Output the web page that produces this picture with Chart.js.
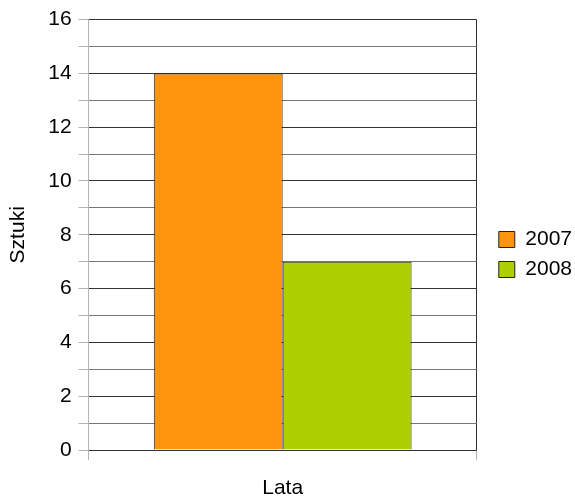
<!DOCTYPE html>
<html>
<head>
<meta charset="utf-8">
<script src="https://cdn.jsdelivr.net/npm/chart.js@4.4.1/dist/chart.umd.min.js"></script>
<style>
  body { margin: 0; background: #fff; }
</style>
</head>
<body>
<canvas id="chart" width="575" height="499"></canvas>
<script>
// data
var categories = [""];
var years = ["2007", "2008"];
var values2007 = [14];
var values2008 = [7];
var barColors = ["#ff950e", "#aecf00"];
var yMin = 0;
var yMax = 16;

Chart.defaults.font.family = "'Liberation Sans', Arial, sans-serif";
Chart.defaults.font.size = 21;
Chart.defaults.color = "#000";

new Chart("chart", {
  type: "bar",
  data: {
    labels: categories,
    datasets: [{
      label: years[0],
      data: values2007,
      backgroundColor: barColors[0],
      borderColor: "#222",
      borderWidth: 1
    }, {
      label: years[1],
      data: values2008,
      backgroundColor: barColors[1],
      borderColor: "#222",
      borderWidth: 1
    }]
  },
  options: {
    responsive: false,
    animation: false,
    layout: { padding: { top: 10, right: -7, bottom: 0, left: 6 } },
    datasets: {
      bar: { categoryPercentage: 0.664, barPercentage: 1 }
    },
    plugins: {
      legend: {
        position: "right",
        labels: { boxWidth: 16, boxHeight: 16, padding: 9, color: "#000" }
      },
      tooltip: { enabled: false }
    },
    scales: {
      x: {
        grid: {
          offset: true,
          tickLength: 10,
          color: function(ctx) { return ctx.index === 0 ? "#b3b3b3" : "#333"; },
          tickColor: "#b3b3b3"
        },
        border: { display: false },
        ticks: { display: false },
        title: { display: true, text: "Lata", font: { lineHeight: 1 }, padding: { top: 18, bottom: 0 } }
      },
      y: {
        min: yMin,
        max: yMax,
        grid: {
          tickLength: 10,
          color: function(ctx) { return ctx.tick && ctx.tick.value % 2 ? "#777" : "#333"; },
          tickColor: "#b3b3b3"
        },
        border: { color: "#b3b3b3" },
        ticks: {
          stepSize: 1,
          autoSkip: false,
          padding: 7,
          callback: function(v) { return v % 2 === 0 ? v : ""; }
        },
        title: { display: true, text: "Sztuki", padding: { top: 0, bottom: 10 } }
      },
      // empty axis on the right, only keeps a gap before the legend
      gap: {
        type: "linear",
        position: "right",
        grid: { display: false },
        border: { display: false },
        ticks: { display: false },
        afterFit: function(scale) { scale.width = 13; }
      }
    }
  }
});
</script>
</body>
</html>
